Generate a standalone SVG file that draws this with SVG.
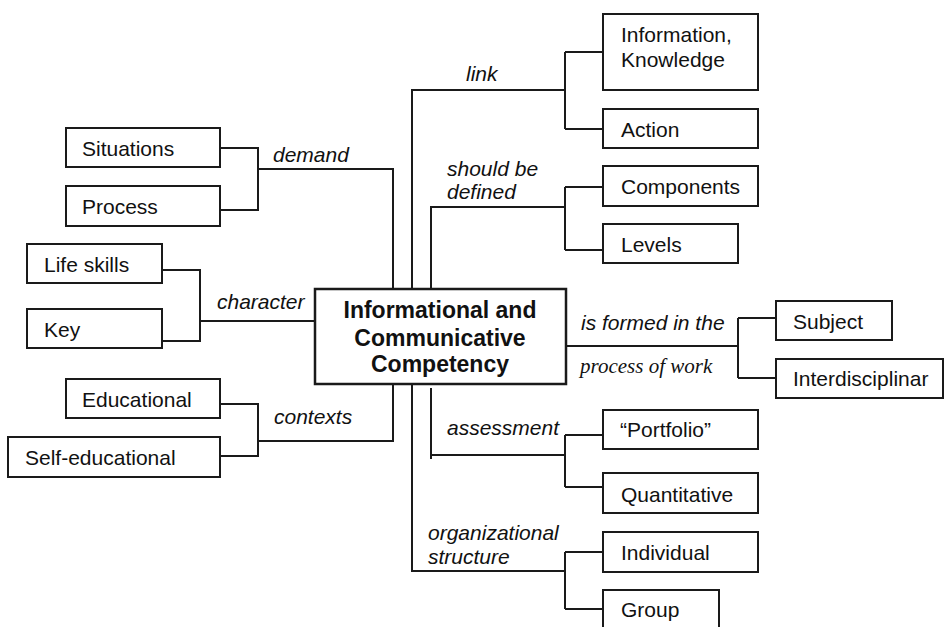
<svg xmlns="http://www.w3.org/2000/svg" width="944" height="627" viewBox="0 0 944 627">
<style>
.box{fill:#fff;stroke:#1a1a1a;stroke-width:2}
.main{fill:#fff;stroke:#1a1a1a;stroke-width:2.5}
.t{font-family:"Liberation Sans",Arial,sans-serif;font-size:21px;fill:#111}
.b{font-family:"Liberation Sans",Arial,sans-serif;font-size:23px;font-weight:bold;fill:#111;text-anchor:middle}
.l{font-family:"Liberation Sans",Arial,sans-serif;font-size:21px;font-style:italic;fill:#111}
.s{font-family:"Liberation Serif","Times New Roman",serif;font-size:21px;font-style:italic;fill:#111}
.c{fill:none;stroke:#1a1a1a;stroke-width:2}
</style>
<g id="connectors">
<path class="c" d="M220,148 H258 V210 H220 M258,169 H393 V289"/>
<path class="c" d="M162,270 H200 V341 H162 M200,321 H315"/>
<path class="c" d="M220,404 H258 V456 H220 M258,441 H393 V384"/>
<path class="c" d="M412,289 V90 H565 M565,52 V129 M565,52 H603 M565,129 H603"/>
<path class="c" d="M431,289 V206 M431,207 H565 M565,187 V250 M565,187 H603 M565,250 H603"/>
<path class="c" d="M566,346 H738 M738,318 V378 M738,318 H776 M738,378 H776"/>
<path class="c" d="M431,388 V459 M431,455 H565 M565,435 V487 M565,435 H603 M565,487 H603"/>
<path class="c" d="M412,384 V571 H565 M565,552 V609 M565,552 H603 M565,609 H603"/>
</g>
<g id="labels">
<text class="l" x="273" y="162">demand</text>
<text class="l" x="217" y="309">character</text>
<text class="l" x="274" y="424">contexts</text>
<text class="l" x="466" y="81">link</text>
<text class="l" x="447" y="176">should be</text>
<text class="l" x="447" y="199">defined</text>
<text class="l" x="581" y="330">is formed in the</text>
<text class="s" x="580" y="373">process of work</text>
<text class="l" x="447" y="435">assessment</text>
<text class="l" x="428" y="540">organizational</text>
<text class="l" x="428" y="564">structure</text>
</g>
<g id="center"><rect class="main" x="315" y="289" width="251" height="95"/>
<text class="b" x="440" y="318">Informational and</text>
<text class="b" x="440" y="346">Communicative</text>
<text class="b" x="440" y="372">Competency</text></g>
<g id="situations"><rect class="box" x="66" y="128" width="154" height="39"/><text class="t" x="82" y="156">Situations</text></g>
<g id="process"><rect class="box" x="66" y="186" width="154" height="40"/><text class="t" x="82" y="214">Process</text></g>
<g id="lifeskills"><rect class="box" x="27" y="244" width="135" height="39"/><text class="t" x="44" y="272">Life skills</text></g>
<g id="key"><rect class="box" x="27" y="309" width="135" height="39"/><text class="t" x="44" y="337">Key</text></g>
<g id="educational"><rect class="box" x="66" y="379" width="154" height="39"/><text class="t" x="82" y="407">Educational</text></g>
<g id="selfeducational"><rect class="box" x="8" y="437" width="212" height="40"/><text class="t" x="25" y="465">Self-educational</text></g>
<g id="information"><rect class="box" x="603" y="14" width="155" height="76"/><text class="t" x="621" y="42">Information,</text><text class="t" x="621" y="67">Knowledge</text></g>
<g id="action"><rect class="box" x="603" y="109" width="155" height="39"/><text class="t" x="621" y="137">Action</text></g>
<g id="components"><rect class="box" x="603" y="166" width="155" height="40"/><text class="t" x="621" y="194">Components</text></g>
<g id="levels"><rect class="box" x="603" y="224" width="135" height="39"/><text class="t" x="621" y="252">Levels</text></g>
<g id="subject"><rect class="box" x="776" y="301" width="116" height="39"/><text class="t" x="793" y="329">Subject</text></g>
<g id="interdisciplinar"><rect class="box" x="776" y="359" width="167" height="39"/><text class="t" x="793" y="386">Interdisciplinar</text></g>
<g id="portfolio"><rect class="box" x="603" y="410" width="155" height="39"/><text class="t" x="620" y="437">“Portfolio”</text></g>
<g id="quantitative"><rect class="box" x="603" y="473" width="155" height="40"/><text class="t" x="621" y="502">Quantitative</text></g>
<g id="individual"><rect class="box" x="603" y="532" width="155" height="40"/><text class="t" x="621" y="560">Individual</text></g>
<g id="group"><rect class="box" x="603" y="590" width="116" height="45"/><text class="t" x="621" y="617">Group</text></g>
</svg>
